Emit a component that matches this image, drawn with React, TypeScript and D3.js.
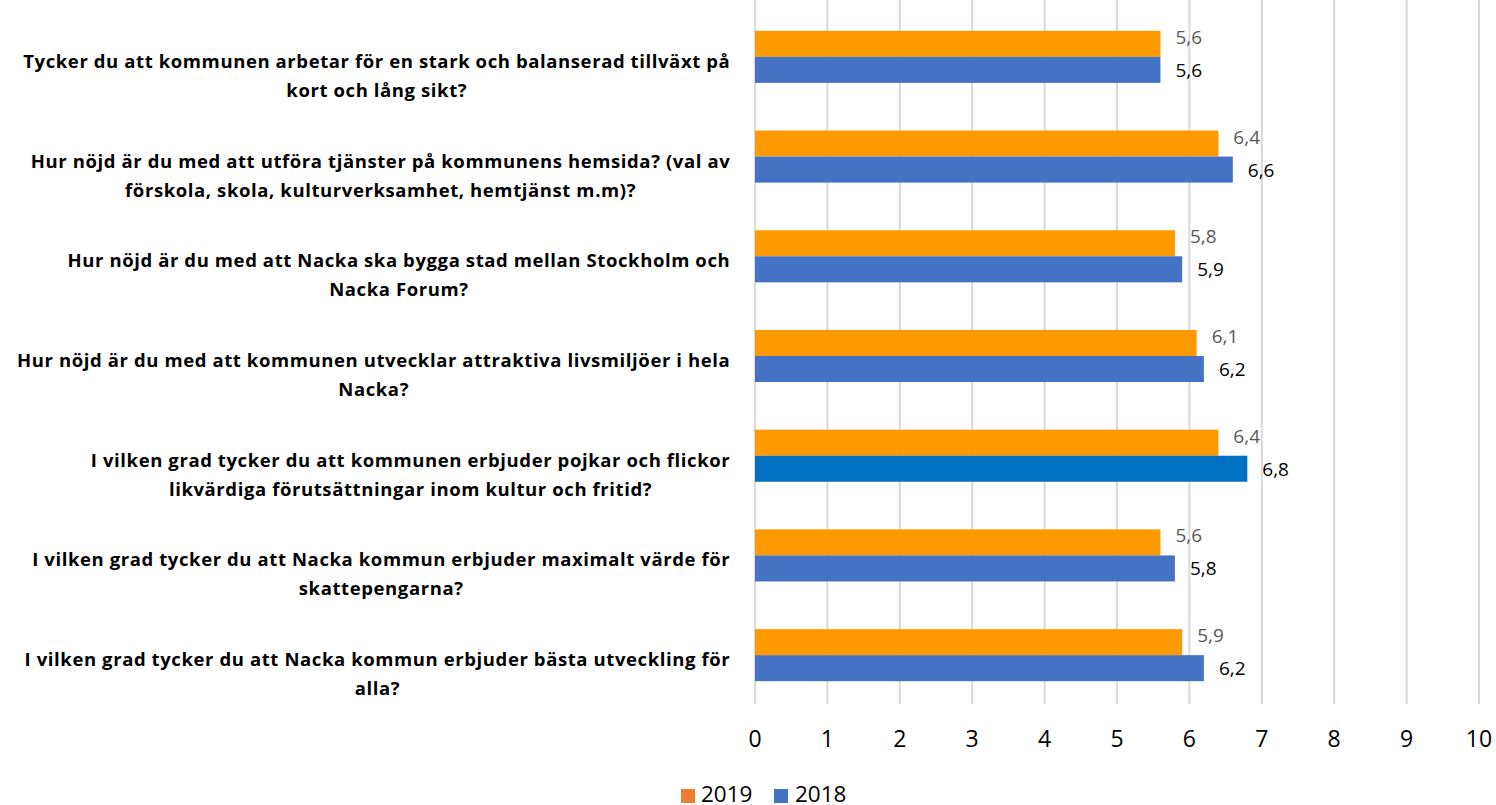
import React from "react";
import * as d3 from "d3";

const categories: string[][] = [
  ["Tycker du att kommunen arbetar för en stark och balanserad tillväxt på", "kort och lång sikt?"],
  ["Hur nöjd är du med att utföra tjänster på kommunens hemsida? (val av", "förskola, skola, kulturverksamhet, hemtjänst m.m)?"],
  ["Hur nöjd är du med att Nacka ska bygga stad mellan Stockholm och", "Nacka Forum?"],
  ["Hur nöjd är du med att kommunen utvecklar attraktiva livsmiljöer i hela", "Nacka?"],
  ["I vilken grad tycker du att kommunen erbjuder pojkar och flickor", "likvärdiga förutsättningar inom kultur och fritid?"],
  ["I vilken grad tycker du att Nacka kommun erbjuder maximalt värde för", "skattepengarna?"],
  ["I vilken grad tycker du att Nacka kommun erbjuder bästa utveckling för", "alla?"],
];
const values2019 = [5.6, 6.4, 5.8, 6.1, 6.4, 5.6, 5.9];
const values2018 = [5.6, 6.6, 5.9, 6.2, 6.8, 5.8, 6.2];
const barColors2018 = ["#4472C4", "#4472C4", "#4472C4", "#4472C4", "#0070C0", "#4472C4", "#4472C4"];
const ticks = [0, 1, 2, 3, 4, 5, 6, 7, 8, 9, 10];
const seriesNames = ["2019", "2018"];

const W = 1496;
const H = 805;
const FONT = "'Open Sans', sans-serif";
const CAT_SIZE = 18.5;
const CAT_SPACING = 0.6;

let ctx: CanvasRenderingContext2D | null = null;
function measure(t: string): number {
  const extra = t.length * CAT_SPACING;
  if (typeof document === "undefined") return t.length * 9 + extra;
  if (!ctx) ctx = document.createElement("canvas").getContext("2d");
  if (!ctx) return t.length * 9 + extra;
  ctx.font = `bold ${CAT_SIZE}px 'Open Sans'`;
  return ctx.measureText(t).width + extra;
}

export default function App() {
  const x = d3.scaleLinear().domain([0, 10]).range([755, 1479]);
  const idx = categories.map((_, i) => i);
  const y = d3.scaleBand<number>().domain(idx).range([7, 705]).paddingInner(0.478).paddingOuter(0.239);
  const bw = y.bandwidth() / 2;
  const fmt = (v: number) => v.toFixed(1).replace(".", ",");
  const RIGHT = 730;
  return (
    <svg width={W} height={H} style={{ position: "absolute", left: 0, top: 0, background: "#fff" }} fontFamily={FONT}>
      {ticks.map((t) => (
        <line key={"g" + t} x1={x(t)} x2={x(t)} y1={0} y2={704} stroke="#d9d9d9" strokeWidth={2} />
      ))}
      {idx.map((i) => {
        const y0 = y(i)!;
        const maxW = Math.max(...categories[i].map(measure));
        const cx = RIGHT - maxW / 2;
        return (
          <g key={"c" + i}>
            <rect x={x(0)} y={y0} width={x(values2019[i]) - x(0)} height={bw} fill="#FF9900" />
            <rect x={x(0)} y={y0 + bw} width={x(values2018[i]) - x(0)} height={bw} fill={barColors2018[i]} />
            <text x={x(values2019[i]) + 15} y={y0 + 13} fontSize={19} fill="#595959">
              {fmt(values2019[i])}
            </text>
            <text x={x(values2018[i]) + 15} y={y0 + bw + 20} fontSize={19} fill="#000">
              {fmt(values2018[i])}
            </text>
            {categories[i].map((line, k) => (
              <text
                key={k}
                x={cx + CAT_SPACING / 2}
                y={y0 + 37 + k * 29}
                textAnchor="middle"
                fontSize={CAT_SIZE}
                fontWeight="bold"
                letterSpacing={CAT_SPACING}
                fill="#000"
              >
                {line}
              </text>
            ))}
          </g>
        );
      })}
      {ticks.map((t) => (
        <text key={"t" + t} x={x(t)} y={747} textAnchor="middle" fontSize={23} fill="#000">
          {t}
        </text>
      ))}
      <rect x={681} y={789} width={14} height={14} fill="#ED7D31" />
      <text x={701} y={802} fontSize={22.5} fill="#000">{seriesNames[0]}</text>
      <rect x={774} y={789} width={14} height={14} fill="#4472C4" />
      <text x={795} y={802} fontSize={22.5} fill="#000">{seriesNames[1]}</text>
    </svg>
  );
}
